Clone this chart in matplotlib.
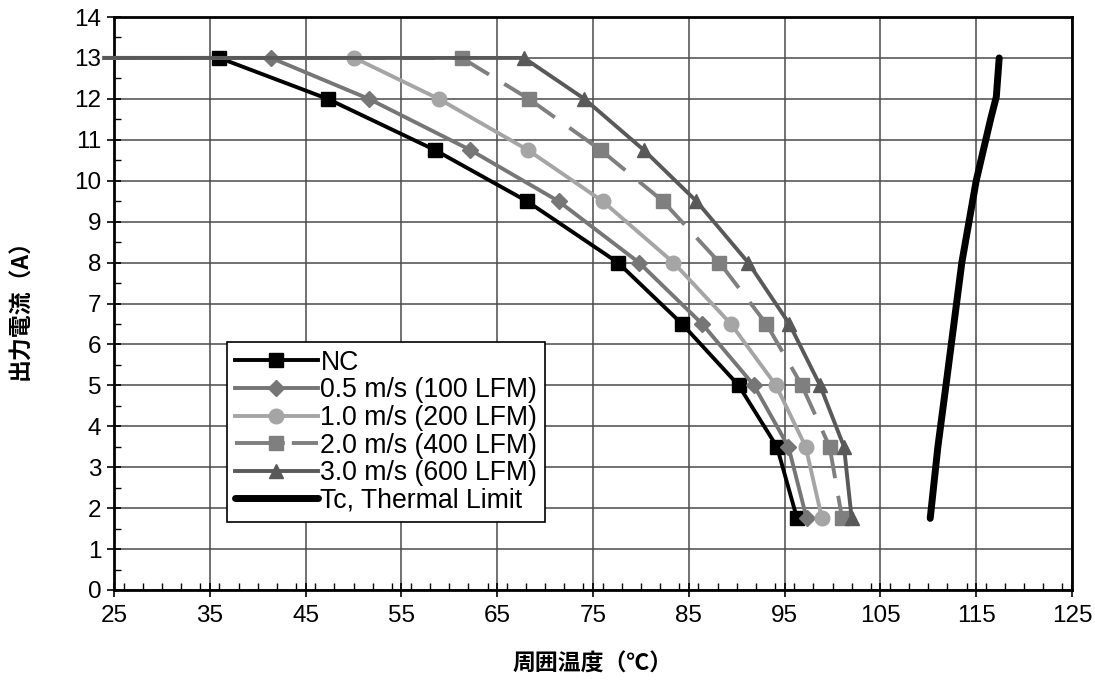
import matplotlib
matplotlib.use("Agg")
import matplotlib.pyplot as plt
from matplotlib.lines import Line2D
from matplotlib.ticker import MultipleLocator

plt.rcParams['font.family'] = ['Liberation Sans', 'Noto Sans CJK JP', 'DejaVu Sans']

# ---- data ----
current_A = [13, 12, 10.75, 9.5, 8, 6.5, 5, 3.5, 1.75]
lead_in_temp = 24.0  # horizontal lead-in at 13 A starting just left of axis

temp_nc   = [36.0, 47.3, 58.5, 68.1, 77.6, 84.3, 90.2, 94.2, 96.3]
temp_05   = [41.4, 51.6, 62.2, 71.4, 79.8, 86.4, 91.8, 95.4, 97.3]
temp_10   = [50.1, 58.9, 68.2, 76.0, 83.4, 89.4, 94.1, 97.2, 98.9]
temp_20   = [61.3, 68.3, 75.8, 82.3, 88.2, 93.1, 96.8, 99.7, 101.0]
temp_30   = [67.8, 74.1, 80.3, 85.8, 91.2, 95.5, 98.7, 101.2, 102.0]

tc_temp    = [110.2, 111.0, 111.9, 113.5, 115.0, 116.5, 117.1, 117.4]
tc_current = [1.75, 3.5, 5.1, 8.0, 10.0, 11.5, 12.05, 13.0]

labels = ['NC', '0.5 m/s (100 LFM)', '1.0 m/s (200 LFM)',
          '2.0 m/s (400 LFM)', '3.0 m/s (600 LFM)']
tc_label = 'Tc, Thermal Limit'

x_ticks = [25, 35, 45, 55, 65, 75, 85, 95, 105, 115, 125]
y_ticks = list(range(0, 15))

# ---- styles ----
series = [temp_nc, temp_05, temp_10, temp_20, temp_30]
colors = ['#000000', '#767676', '#a5a5a5', '#7f7f7f', '#595959']
markers = ['s', 'D', 'o', 's', '^']
msizes = [9.5, 8.5, 10.5, 9.5, 10.5]
dashed = [False, False, False, True, False]
LW = 2.8
DASH = (0, (8.2, 4.6))

fig = plt.figure(figsize=(10.95, 6.8), dpi=100)
ax = fig.add_axes([114/1095, 90/680, (1072-114)/1095, (590-17)/680])

handles = []
for temps, c, m, ms, dsh, lab in zip(series, colors, markers, msizes, dashed, labels):
    xs = [lead_in_temp] + temps
    ys = [current_A[0]] + current_A
    if dsh:
        # dash pattern restarts on each segment
        for i in range(len(xs) - 1):
            ax.plot(xs[i:i+2], ys[i:i+2], color=c, lw=LW, ls=DASH,
                    clip_on=False, zorder=3)
        ax.plot(temps, current_A, ls='none', marker=m, ms=ms, color=c,
                zorder=3)
        handles.append(Line2D([], [], color=c, lw=LW, ls=(0, (12.8, 1.8)),
                              marker=m, ms=ms, label=lab))
    else:
        h, = ax.plot(xs, ys, color=c, lw=LW, ls='-', marker=m, ms=ms,
                     markevery=list(range(1, len(xs))), markeredgecolor=c,
                     markerfacecolor=c, clip_on=False, label=lab, zorder=3)
        handles.append(h)

h, = ax.plot(tc_temp, tc_current, color='black', lw=5, solid_capstyle='round',
             label=tc_label, zorder=3)
handles.append(h)

ax.set_xlim(25, 125)
ax.set_ylim(0, 14)
ax.set_xticks(x_ticks)
ax.set_yticks(y_ticks)
ax.xaxis.set_minor_locator(MultipleLocator(2))
ax.yaxis.set_minor_locator(MultipleLocator(0.5))
ax.tick_params(axis='both', which='major', direction='inout', length=10, width=1.2,
               labelsize=17.5, colors='black')
ax.tick_params(axis='both', which='minor', direction='in', length=5, width=1)
ax.tick_params(axis='x', which='major', pad=6)
ax.tick_params(axis='y', which='major', pad=4)
ax.grid(True, which='major', color='#4a4a4a', lw=1.1, zorder=0)
ax.set_axisbelow(True)
for s in ax.spines.values():
    s.set_linewidth(2)
    s.set_color('black')

ax.set_xlabel('周囲温度（℃）', fontsize=16.5, fontweight='bold',
              family=['Noto Sans CJK JP', 'DejaVu Sans'], labelpad=18)
ax.set_ylabel('出力電流（A）', fontsize=16.5, fontweight='bold',
              family=['Noto Sans CJK JP', 'DejaVu Sans'], labelpad=30)

leg = ax.legend(handles=handles, loc='lower left', bbox_to_anchor=(0.118, 0.119),
                fontsize=19.2, frameon=True, fancybox=False, framealpha=1,
                edgecolor='black', handlelength=3.1, handletextpad=0.1,
                labelspacing=0.06, borderpad=0.3, borderaxespad=0)
leg.get_frame().set_linewidth(1.2)

fig.savefig('out.png', dpi=100)
